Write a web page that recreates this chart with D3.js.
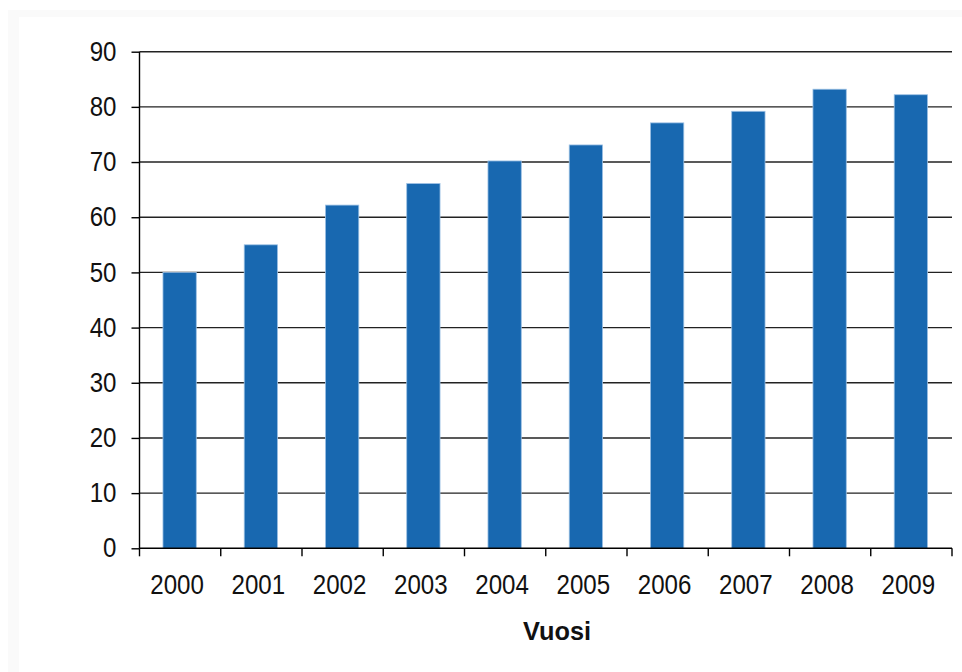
<!DOCTYPE html>
<html>
<head>
<meta charset="utf-8">
<script src="https://cdn.jsdelivr.net/npm/d3@7"></script>
<style>
  html, body { margin: 0; padding: 0; background: #fff; }
  svg { display: block; }
  .lbl { font-family: 'Liberation Sans', Arial, sans-serif; fill: #111; }
</style>
</head>
<body>
<svg id="chart" width="962" height="672"></svg>
<script>
// chart data
const years = ['2000', '2001', '2002', '2003', '2004', '2005', '2006', '2007', '2008', '2009'];
const values = [50, 55, 62.2, 66.1, 70.2, 73.1, 77.1, 79.2, 83.2, 82.2];
const yTicks = [0, 10, 20, 30, 40, 50, 60, 70, 80, 90];
const xTitle = 'Vuosi';

const width = 962;
const height = 672;
const plot = {left: 139.5, right: 952, top: 51.7, bottom: 548.3};
const digitW = 13.4; // the labels use a narrow font, squeeze to this width per digit

const svg = d3.select('#chart');

// faint frame around the chart area
svg.append('rect')
  .attr('x', 8).attr('y', 10)
  .attr('width', width - 8).attr('height', height - 10)
  .attr('fill', '#fafafa');
svg.append('rect')
  .attr('x', 19).attr('y', 17)
  .attr('width', width - 19).attr('height', height - 17)
  .attr('fill', '#fff');

const x = d3.scaleBand()
  .domain(years)
  .range([plot.left, plot.right])
  .padding(0);

const y = d3.scaleLinear()
  .domain([0, 90])
  .range([plot.bottom, plot.top]);

const barWidth = x.bandwidth() * 0.41;

// horizontal gridlines
svg.append('g')
  .selectAll('line')
  .data(yTicks.filter(t => t > 0))
  .join('line')
  .attr('x1', plot.left)
  .attr('x2', plot.right)
  .attr('y1', d => y(d))
  .attr('y2', d => y(d))
  .attr('stroke', '#222')
  .attr('stroke-width', 1.4);

// bars
svg.append('g')
  .selectAll('rect')
  .data(values)
  .join('rect')
  .attr('x', (d, i) => x(years[i]) + (x.bandwidth() - barWidth) / 2 - 0.5)
  .attr('y', d => y(d))
  .attr('width', barWidth)
  .attr('height', d => y(0) - y(d))
  .attr('fill', '#1868b0')
  .attr('stroke', '#9cc0e4')
  .attr('stroke-width', 0.8);

// y axis
const yAxis = d3.axisLeft(y)
  .tickValues(yTicks)
  .tickSize(8)
  .tickPadding(15)
  .tickFormat(d3.format('d'));

const gy = svg.append('g')
  .attr('transform', `translate(${plot.left},0)`)
  .call(yAxis);

// x axis: ticks at band boundaries
const xAxis = d3.axisBottom(x)
  .tickSize(0)
  .tickPadding(27);

const gx = svg.append('g')
  .attr('transform', `translate(0,${plot.bottom})`)
  .call(xAxis);

gx.append('g')
  .selectAll('line')
  .data(years.concat(['end']))
  .join('line')
  .attr('x1', (d, i) => i < years.length ? x(d) : plot.right)
  .attr('x2', (d, i) => i < years.length ? x(d) : plot.right)
  .attr('y1', 0)
  .attr('y2', 8)
  .attr('stroke', '#000')
  .attr('stroke-width', 1.4);

[gx, gy].forEach(g => {
  g.select('.domain').attr('stroke', '#000').attr('stroke-width', 1.4);
  g.selectAll('.tick line').attr('stroke', '#000').attr('stroke-width', 1.4);
  g.selectAll('.tick text')
    .attr('class', 'lbl')
    .style('font-size', '27px')
    .attr('fill', '#111')
    .attr('textLength', function() { return this.textContent.length * digitW; })
    .attr('lengthAdjust', 'spacingAndGlyphs');
});
gx.select('.domain').attr('d', `M${plot.left},0H${plot.right}`);
gy.select('.domain').attr('d', `M0,${plot.bottom}V${plot.top}`);
gx.selectAll('.tick text').attr('dx', -3);

// x axis title
svg.append('text')
  .attr('class', 'lbl')
  .attr('x', 557)
  .attr('y', 640)
  .attr('text-anchor', 'middle')
  .style('font-size', '26px')
  .style('font-weight', 'bold')
  .attr('textLength', 68)
  .attr('lengthAdjust', 'spacingAndGlyphs')
  .text(xTitle);
</script>
</body>
</html>
